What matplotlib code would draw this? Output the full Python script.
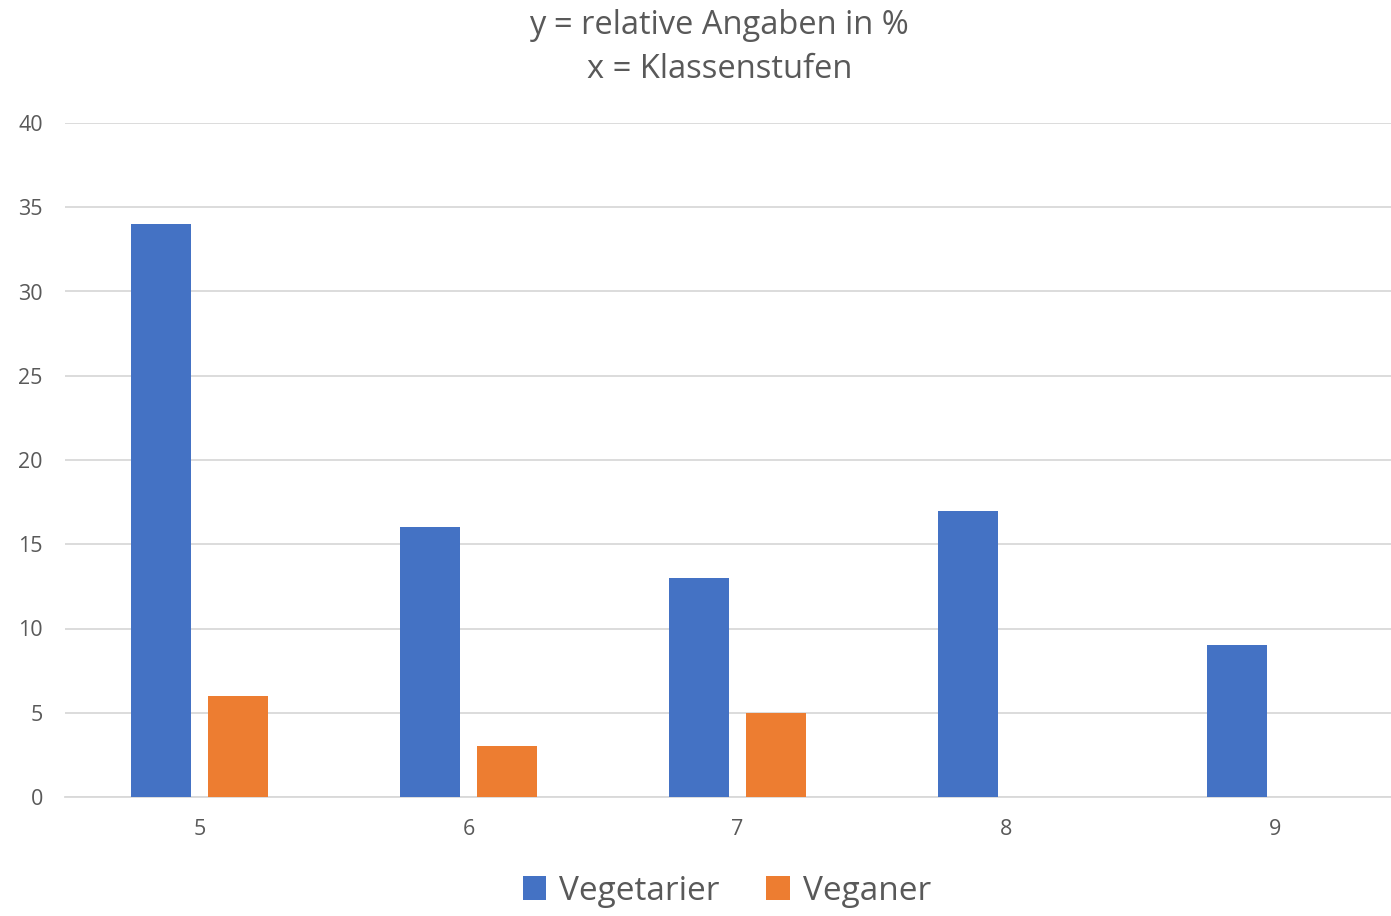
import matplotlib
matplotlib.use("Agg")
import matplotlib.pyplot as plt
import numpy as np

categories = ["5", "6", "7", "8", "9"]
vegetarier = [34, 16, 13, 17, 9]
veganer = [6, 3, 5, 0, 0]
yticks = [0, 5, 10, 15, 20, 25, 30, 35, 40]

plt.rcParams['font.family'] = ['Open Sans', 'DejaVu Sans']
gray = "#595959"

fig = plt.figure(figsize=(13.91, 9.16), dpi=100)
ax = fig.add_axes([65/1391, 1-797/916, 1326/1391, (797-123)/916])

x = np.arange(len(categories))
w = 0.223
off = 0.142
ax.bar(x - off, vegetarier, width=w, color="#4472C4", label="Vegetarier", zorder=3)
ax.bar(x + off, veganer, width=w, color="#ED7D31", label="Veganer", zorder=3)

ax.set_xlim(-0.5, 4.43)
ax.set_ylim(0, 40)
ax.set_yticks(yticks)
ax.set_xticks(x)
ax.set_xticklabels(categories)
ax.grid(axis="y", color="#D9D9D9", linewidth=1.3, zorder=0)
for s in ["top", "right", "left"]:
    ax.spines[s].set_visible(False)
ax.spines["bottom"].set_color("#D9D9D9")
ax.spines["bottom"].set_linewidth(1.3)
ax.tick_params(axis="both", length=0, labelsize=15.5, labelcolor=gray)
ax.tick_params(axis="x", pad=16)
ax.tick_params(axis="y", pad=16)

fig.text(719/1391, 1-25/916, "y = relative Angaben in %", ha="center", va="center",
         fontsize=23.5, color=gray)
fig.text(720/1391, 1-70/916, "x = Klassenstufen", ha="center", va="center",
         fontsize=23.5, color=gray)

leg = fig.legend(loc="center", bbox_to_anchor=(727/1391, 1-891/916), ncol=2, frameon=False,
                 fontsize=24, handlelength=0.7, handleheight=0.7, handletextpad=0.4,
                 columnspacing=1.4)
for t in leg.get_texts():
    t.set_color(gray)

fig.savefig("out.png", dpi=100)
